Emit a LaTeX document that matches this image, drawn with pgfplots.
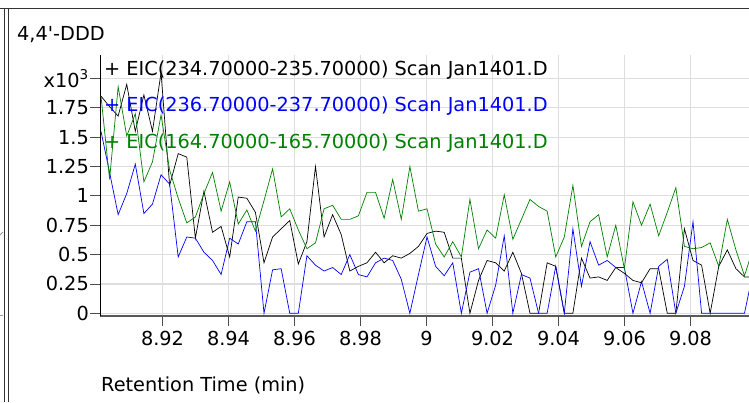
\documentclass[border=0pt]{standalone}
\usepackage{fontspec}
\setmainfont{DejaVu Sans}
\usepackage{pgfplots}
\pgfplotsset{compat=1.18}
\usepackage{pgfplotstable}
\definecolor{eicgreen}{RGB}{0,128,0}
\definecolor{eicblue}{RGB}{0,0,255}
\definecolor{gridgray}{RGB}{222,222,222}
\newcommand\ff{\fontsize{19.3pt}{23pt}\selectfont}

\pgfplotstableread{
x k b g
8.90136 1.85 1.55 1.85
8.90396 1.76 1.20 1.14
8.90656 1.68 0.84 1.93
8.90916 1.95 1.02 1.51
8.91176 1.55 1.27 1.70
8.91436 1.86 0.85 1.12
8.91696 1.55 0.93 1.29
8.91956 2.05 1.18 1.69
8.92216 1.09 1.10 1.22
8.92476 1.36 0.48 0.98
8.92736 1.33 0.65 0.77
8.92996 0.64 0.64 0.82
8.93256 1.04 0.52 1.02
8.93516 0.69 0.45 1.20
8.93776 0.74 0.33 0.87
8.94036 0.48 0.64 1.12
8.94296 0.99 0.59 0.76
8.94556 0.98 0.78 0.88
8.94816 0.86 0.78 0.70
8.95076 0.43 0.00 0.96
8.95336 0.65 0.37 1.23
8.95596 0.72 0.38 0.82
8.95856 0.79 0.00 0.89
8.96116 0.42 0.00 0.71
8.96376 0.61 0.49 0.55
8.96636 1.25 0.41 0.60
8.96896 0.65 0.36 0.89
8.97156 0.84 0.39 0.92
8.97416 0.67 0.33 0.80
8.97676 0.36 0.50 0.80
8.97936 0.40 0.33 0.83
8.98196 0.43 0.31 1.03
8.98456 0.52 0.43 1.03
8.98716 0.43 0.47 0.81
8.98976 0.49 0.45 1.14
8.99236 0.47 0.29 0.80
8.99496 0.51 0.00 1.25
8.99756 0.57 0.33 0.87
9.00016 0.68 0.65 0.89
9.00276 0.70 0.40 0.59
9.00536 0.69 0.32 0.48
9.00796 0.47 0.43 0.61
9.01056 0.47 0.00 0.48
9.01316 0.00 0.35 0.97
9.01576 0.28 0.38 0.55
9.01836 0.45 0.00 0.71
9.02096 0.43 0.24 0.64
9.02356 0.36 0.66 1.01
9.02616 0.52 0.00 0.63
9.02876 0.34 0.33 0.80
9.03136 0.00 0.30 0.97
9.03396 0.00 0.00 0.91
9.03656 0.43 0.00 0.87
9.03916 0.40 0.40 0.48
9.04176 0.00 0.00 0.65
9.04436 0.00 0.72 1.09
9.04696 0.47 0.23 0.57
9.04956 0.30 0.61 0.78
9.05216 0.31 0.41 0.84
9.05476 0.28 0.45 0.48
9.05736 0.39 0.39 0.75
9.05996 0.34 0.39 0.38
9.06256 0.28 0.00 0.95
9.06516 0.26 0.27 0.75
9.06776 0.38 0.00 0.93
9.07036 0.38 0.40 0.66
9.07296 0.00 0.46 0.86
9.07556 0.00 0.00 1.07
9.07816 0.72 0.23 0.57
9.08076 0.45 0.78 0.55
9.08336 0.41 0.00 0.56
9.08596 0.00 0.00 0.60
9.08856 0.40 0.00 0.40
9.09116 0.54 0.00 0.80
9.09376 0.38 0.00 0.54
9.09636 0.31 0.00 0.32
9.09896 0.31 0.35 0.55
}\data

\begin{document}
\begin{tikzpicture}[x=1pt,y=1pt]
\path[use as bounding box] (0,0) rectangle (749,402);
% outer frame
\draw[line width=1.4pt, black!80] (0,393.6) -- (749,393.6);
\draw[line width=0.9pt, black!80] (4.8,0) -- (4.8,393.6);
\draw[line width=0.9pt, black!80] (8.6,0) -- (8.6,393.6);
\draw[line width=0.8pt, black!40] (0,167) -- (3,170);
\draw[line width=0.8pt, black!40] (0,87) -- (3,87);
\begin{axis}[
  at={(100pt,86pt)}, anchor=south west,
  scale only axis, width=649pt, height=261pt,
  xmin=8.90106, xmax=9.09773, ymin=-0.023, ymax=2.2,
  axis x line*=bottom, axis y line*=left,
  axis line style={-},
  x axis line style={black!65, line width=1.6pt},
  y axis line style={black, line width=0.8pt},
  xtick={8.92,8.94,8.96,8.98,9,9.02,9.04,9.06,9.08},
  xticklabels={8.92,8.94,8.96,8.98,9,9.02,9.04,9.06,9.08},
  ytick={0,0.25,0.5,0.75,1,1.25,1.5,1.75,2},
  yticklabels={0,0.25,0.5,0.75,1,1.25,1.5,1.75,x10\textsuperscript{3}},
  tick align=outside, major tick length=10pt,
  tick style={black!70, line width=0.8pt},
  xmajorgrids, ymajorgrids,
  grid style={gridgray, line width=1.2pt},
  xticklabel style={font=\ff, inner sep=2pt, yshift=-3pt},
  yticklabel style={font=\ff, inner sep=1pt},
  clip=true,
]
\addplot[black, line width=0.7pt] table[x=x,y=k]{\data};
\addplot[eicblue, line width=0.7pt] table[x=x,y=b]{\data};
\addplot[eicgreen, line width=0.7pt] table[x=x,y=g]{\data};
\end{axis}
\node[anchor=west, inner sep=0, font=\ff] at (17,367) {4,4\textquotesingle-DDD};
\node[anchor=west, inner sep=0, font=\ff] at (101,17) {Retention Time (min)};
\node[anchor=west, inner sep=0, font=\ff, text=black] at (104,332) {+ EIC(234.70000-235.70000) Scan Jan1401.D};
\node[anchor=west, inner sep=0, font=\ff, text=eicblue] at (104,296) {+ EIC(236.70000-237.70000) Scan Jan1401.D};
\node[anchor=west, inner sep=0, font=\ff, text=eicgreen] at (104,259) {+ EIC(164.70000-165.70000) Scan Jan1401.D};
\end{tikzpicture}
\end{document}
